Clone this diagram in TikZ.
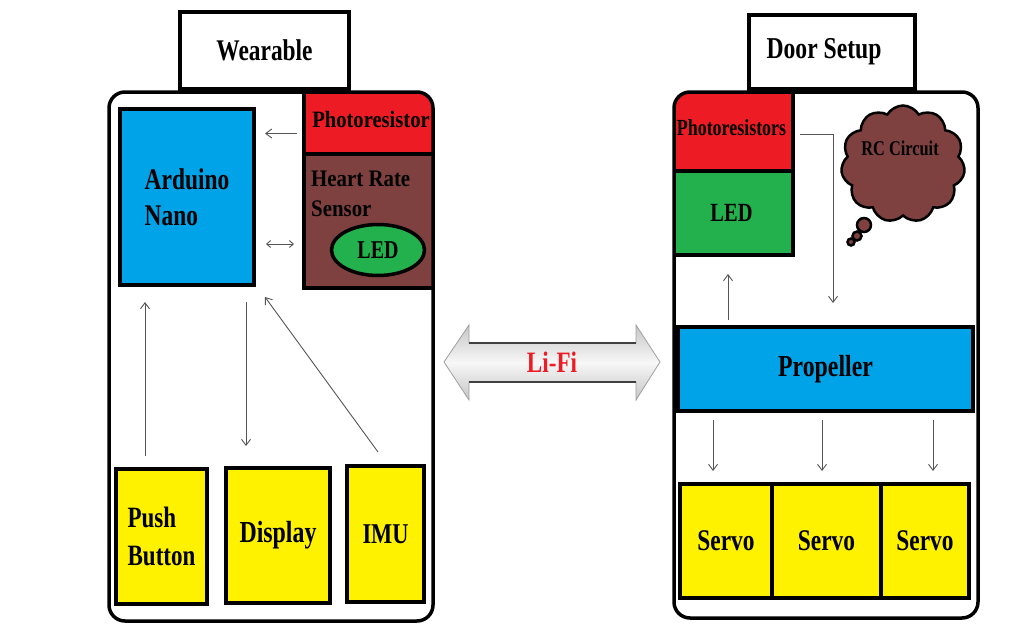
\documentclass[tikz,border=0pt]{standalone}
\usepackage{fontspec}
\setmainfont[FakeStretch=0.78]{Liberation Serif}
\newfontfamily\widefont[FakeStretch=0.88]{Liberation Serif}
\usetikzlibrary{shapes.geometric,shapes.symbols,arrows.meta,calc}
\definecolor{nanoblue}{HTML}{00A2E8}
\definecolor{prred}{HTML}{ED1C24}
\definecolor{hrbrown}{HTML}{7F4040}
\definecolor{ledgreen}{HTML}{22B14C}
\definecolor{modyellow}{HTML}{FFF200}
\definecolor{wire}{HTML}{555555}
\newcommand{\fs}[2]{\bfseries\fontsize{#1}{#2}\selectfont}
\begin{document}
\begin{tikzpicture}[x=1pt,y=-1pt,
  titlebox/.style={draw, line width=3.5pt, fill=white, inner sep=0pt, font=\fs{30}{34}},
  panel/.style={draw, line width=3.5pt, rounded corners=16pt, inner sep=0pt},
  blk/.style={draw, line width=4pt, inner sep=0pt, font=\fs{30}{36}, align=left},
  conn/.style={draw=wire, line width=0.9pt, -{Straight Barb[length=6pt,width=9pt]}},
  conn2/.style={draw=wire, line width=0.9pt, {Straight Barb[length=4pt,width=7pt]}-{Straight Barb[length=4pt,width=7pt]}},
  bubble/.style={draw, line width=2.5pt, fill=hrbrown}
]
\useasboundingbox (0,0) rectangle (1028,626);

% ---------- Wearable ----------
\node[titlebox, minimum width=169pt, minimum height=77pt] (weartitle) at (264.5,50.5) {Wearable};

\begin{scope}
  \clip[rounded corners=16pt] (109,92) rectangle (433,621);
  \node[blk, fill=nanoblue, minimum width=134pt, minimum height=176pt] (nano) at (187,197) {Arduino\\Nano};
  \node[blk, fill=prred, minimum width=134pt, minimum height=69pt, font=\widefont\fs{23.4}{28}] (photo) at (371,119.5) {Photoresistor};
  \node[blk, fill=hrbrown, minimum width=134pt, minimum height=134pt] (hr) at (371,221) {};
  \node[anchor=north west, inner sep=0pt, align=left, font=\widefont\fs{23.7}{30}] (hrtext) at (311,171) {Heart Rate\\Sensor};
  \node[ellipse, draw, line width=3.5pt, fill=ledgreen, minimum width=93pt, minimum height=51pt, inner sep=0pt, font=\fs{25.6}{30}] (wled) at (378,250) {LED};
  \node[blk, fill=modyellow, minimum width=91pt, minimum height=135pt, font=\fs{29.5}{38}] (pb) at (161.5,536.5) {Push\\Button};
  \node[blk, fill=modyellow, minimum width=104pt, minimum height=135pt, font=\fs{30.6}{36}] (disp) at (278,535.5) {Display};
  \node[blk, fill=modyellow, minimum width=77pt, minimum height=136pt, font=\fs{28.7}{34}] (imu) at (385.5,534) {IMU};
\end{scope}
\node[panel, minimum width=324pt, minimum height=529pt] (wearpanel) at (271,356.5) {};

% connections inside the wearable
\coordinate (p1) at ($(photo.west)+(-5,14)$);
\draw[conn, shorten >=9pt] (p1) -- (nano.east |- p1);
\coordinate (p2) at ($(hr.west)+(-8,23)$);
\draw[conn2, shorten >=10pt] (p2) -- (nano.east |- p2);
\coordinate (p3) at ($(pb.north)+(-16.5,-11)$);
\draw[conn, shorten >=15pt] (p3) -- (nano.south -| p3);
\coordinate (p4) at ($(disp.north)+(-32,-20)$);
\draw[conn, shorten <=15pt] (nano.south -| p4) -- (p4);
\draw[conn] ($(imu.north)+(-7.5,-12)$) -- ($(nano.south east)+(9,10)$);

% ---------- Door Setup ----------
\node[titlebox, minimum width=166pt, minimum height=74pt, font=\fs{30.3}{34}] (doortitle) at (832,52) {Door Setup\hspace*{16pt}};

\begin{scope}
  \clip[rounded corners=16pt] (674,92) rectangle (978,618);
  \node[blk, fill=prred, minimum width=123pt, minimum height=86pt, font=\fs{23}{28}] (pr) at (731.5,128) {Photoresistors};
  \node[blk, fill=ledgreen, minimum width=123pt, minimum height=84pt, font=\fs{26.2}{30}] (dled) at (731.5,213) {LED};
  \node[blk, fill=nanoblue, minimum width=295pt, minimum height=84pt, font=\fs{30.5}{36}] (prop) at (825.5,369) {Propeller};
  \node[blk, fill=modyellow, minimum width=92pt, minimum height=114pt] (s1) at (726,541) {Servo};
  \node[blk, fill=modyellow, minimum width=109pt, minimum height=114pt] (s2) at (826.5,541) {Servo};
  \node[blk, fill=modyellow, minimum width=88pt, minimum height=114pt] (s3) at (925,541) {Servo};
\end{scope}
\node[panel, minimum width=304pt, minimum height=526pt] (doorpanel) at (826,355) {};

% RC circuit thought cloud
\node[cloud, cloud puffs=11, cloud puff arc=120, cloud ignores aspect, draw, line width=2.5pt, fill=hrbrown,
      minimum width=124pt, minimum height=117pt, inner sep=0pt] (rc) at (903,164) {};
\node[font=\fs{21}{25}] (rctext) at ($(rc)+(-3,-16)$) {RC Circuit};
\filldraw[bubble] (864,225) circle (7);
\filldraw[bubble] (857,236) circle (4.5);
\filldraw[bubble] (851,242) circle (3.5);

% connections inside the door setup
\draw[conn] ($(pr.east)+(5,6)$) -| ($(prop.north)+(7.5,-22)$);
\coordinate (p5) at ($(dled.south)+(-3.5,17)$);
\draw[conn, shorten <=5pt] (prop.north -| p5) -- (p5);
\coordinate (q1) at ($(s1.north)+(-13,-11)$);
\coordinate (q2) at ($(s2.north)+(-4.5,-11)$);
\coordinate (q3) at ($(s3.north)+(8,-11)$);
\draw[conn, shorten <=7pt] (prop.south -| q1) -- (q1);
\draw[conn, shorten <=7pt] (prop.south -| q2) -- (q2);
\draw[conn, shorten <=7pt] (prop.south -| q3) -- (q3);

% ---------- Li-Fi link ----------
\shadedraw[top color=gray!45, bottom color=gray!45, middle color=gray!6, draw=gray!75, line width=0.8pt]
  (444,362) -- (469,325) -- (469,343) -- (636,343) -- (636,325) -- (660,362)
  -- (636,400) -- (636,382) -- (469,382) -- (469,400) -- cycle;
\draw[line width=1.2pt, gray!50!black] (469,343) -- (636,343);
\draw[line width=1.2pt, gray!50!black] (469,382) -- (636,382);
\node[text=prred, font=\fs{29.6}{34}] (lifi) at (552,362) {Li-Fi};
\end{tikzpicture}
\end{document}
